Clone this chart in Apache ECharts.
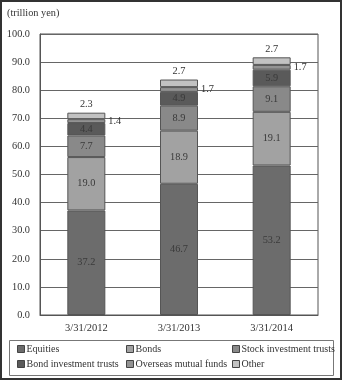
<!DOCTYPE html>
<html>
<head>
<meta charset="utf-8">
<script src="https://cdn.jsdelivr.net/npm/echarts@6/dist/echarts.min.js"></script>
<style>
  html, body { margin: 0; padding: 0; background: #fff; }
  #chart { width: 342px; height: 380px; }
</style>
</head>
<body>
<div id="chart"></div>
<script>
// Household holdings of risk assets by type, trillion yen
const categories = ['3/31/2012', '3/31/2013', '3/31/2014'];
const equities = [37.2, 46.7, 53.2];
const bonds = [19.0, 18.9, 19.1];
const stockTrusts = [7.7, 8.9, 9.1];
const bondTrusts = [4.4, 4.9, 5.9];
const overseasFunds = [1.4, 1.7, 1.7];
const other = [2.3, 2.7, 2.7];
const yTicks = [0, 10, 20, 30, 40, 50, 60, 70, 80, 90, 100];

const FONT = '"Liberation Serif", "DejaVu Serif", serif';
const FS = 10.3;
const TEXT = '#333';

const seriesDefs = [
  { name: 'Equities', data: equities, color: '#6c6c6c', pos: 'inside' },
  { name: 'Bonds', data: bonds, color: '#a2a2a2', pos: 'inside' },
  { name: 'Stock investment trusts', data: stockTrusts, color: '#898989', pos: 'inside' },
  { name: 'Bond investment trusts', data: bondTrusts, color: '#5a5a5a', pos: 'inside' },
  { name: 'Overseas mutual funds', data: overseasFunds, color: '#939393', pos: 'right' },
  { name: 'Other', data: other, color: '#c2c2c2', pos: 'top' }
];

const chart = echarts.init(document.getElementById('chart'), null, { renderer: 'canvas' });

const legendCol = (names, left) => ({
  orient: 'vertical',
  left: left,
  top: 344,
  padding: 0,
  itemWidth: 7,
  itemHeight: 7,
  itemGap: 5,
  icon: 'rect',
  data: names,
  itemStyle: { borderColor: '#444', borderWidth: 1 },
  textStyle: { fontFamily: FONT, fontSize: 10, color: TEXT, padding: [0, 0, 0, -3] }
});

chart.setOption({
  animation: false,
  textStyle: { fontFamily: FONT },
  title: {
    text: '(trillion yen)',
    left: 2,
    top: 3,
    textStyle: { fontFamily: FONT, fontSize: FS, fontWeight: 'normal', color: TEXT }
  },
  grid: {
    left: 40, right: 24, top: 34, bottom: 65,
    show: true, borderColor: '#555', borderWidth: 1
  },
  legend: [
    legendCol(['Equities', 'Bond investment trusts'], 17),
    legendCol(['Bonds', 'Overseas mutual funds'], 126),
    legendCol(['Stock investment trusts', 'Other'], 232)
  ],
  graphic: [
    { type: 'rect', shape: { x: 9.5, y: 340.5, width: 324, height: 35 },
      style: { fill: 'none', stroke: '#777', lineWidth: 1 }, silent: true },
    { type: 'rect', shape: { x: 1, y: 1, width: 340, height: 378 },
      style: { fill: 'none', stroke: '#333', lineWidth: 2 }, silent: true }
  ],
  xAxis: {
    type: 'category',
    data: categories,
    axisLine: { lineStyle: { color: '#555' } },
    axisTick: { inside: true, length: 4, lineStyle: { color: '#555' } },
    axisLabel: { fontFamily: FONT, fontSize: 10.5, color: TEXT, margin: 8 }
  },
  yAxis: {
    type: 'value',
    min: yTicks[0],
    max: yTicks[yTicks.length - 1],
    interval: 10,
    axisLine: { show: true, lineStyle: { color: '#555' } },
    axisTick: { show: false },
    splitLine: { lineStyle: { color: '#666' } },
    axisLabel: {
      fontFamily: FONT, fontSize: FS, color: TEXT, margin: 10,
      formatter: v => v.toFixed(1)
    }
  },
  series: seriesDefs.map(d => ({
    name: d.name,
    type: 'bar',
    stack: 'total',
    barWidth: 38,
    data: d.data,
    itemStyle: { color: d.color, borderColor: '#555', borderWidth: 1 },
    label: {
      show: true,
      position: d.pos,
      distance: 3,
      fontFamily: FONT,
      fontSize: FS,
      color: d.pos === 'inside' ? '#3a3a3a' : TEXT,
      formatter: p => p.value.toFixed(1)
    }
  }))
});
</script>
</body>
</html>
